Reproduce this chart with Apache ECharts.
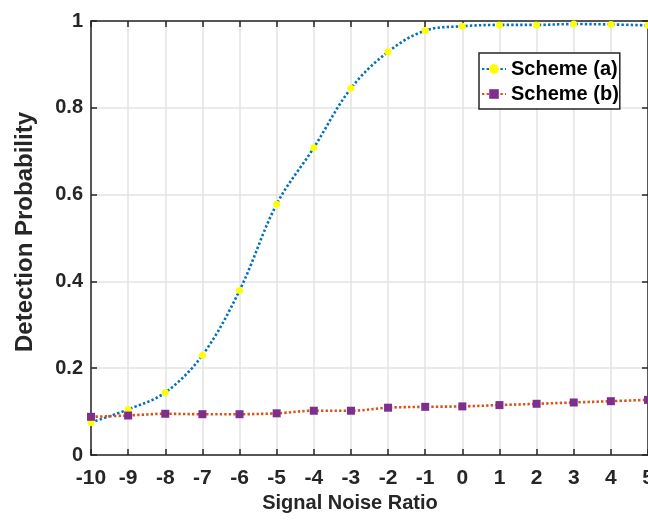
<!DOCTYPE html>
<html>
<head>
<meta charset="utf-8">
<script src="https://cdn.jsdelivr.net/npm/echarts@6/dist/echarts.min.js"></script>
<style>html,body{margin:0;padding:0;background:#fff}#c{width:648px;height:520px}</style>
</head>
<body>
<div id="c"></div>
<script>
const snr = [-10,-9,-8,-7,-6,-5,-4,-3,-2,-1,0,1,2,3,4,5];
const schemeA = [0.075,0.105,0.144,0.230,0.379,0.578,0.708,0.845,0.929,0.978,0.988,0.991,0.991,0.993,0.992,0.990];
const schemeB = [0.088,0.091,0.095,0.094,0.094,0.096,0.102,0.102,0.109,0.111,0.112,0.115,0.118,0.121,0.124,0.127];
const seriesNames = ['Scheme (a)','Scheme (b)'];
const xTitle = 'Signal Noise Ratio';
const yTitle = 'Detection Probability';

const FONT = '"Liberation Sans", Arial, Helvetica, sans-serif';
const AX = '#262626';
const chart = echarts.init(document.getElementById('c'), null, {renderer:'canvas'});
const pairs = arr => snr.map((x,i)=>[x,arr[i]]);
chart.setOption({
  animation:false,
  backgroundColor:'#fff',
  grid:{left:91, top:21, right:0, bottom:65, containLabel:false, outerBoundsMode:'none'},
  legend:{
    data:[{name:seriesNames[0]},{name:seriesNames[1]}],
    orient:'vertical', left:479, top:53,
    backgroundColor:'#fff', borderColor:'#262626', borderWidth:1.5, borderRadius:0,
    padding:[6,1,5,2], itemGap:5, itemWidth:24, itemHeight:12,
    textStyle:{fontFamily:FONT, fontWeight:'bold', fontSize:20, color:'#000'}
  },
  xAxis:[{
    type:'value', min:-10, max:5, interval:1,
    name:xTitle, nameLocation:'middle', nameGap:38,
    nameTextStyle:{fontFamily:FONT, fontWeight:'bold', fontSize:20, color:AX, padding:[0,39,0,0]},
    axisLine:{show:true, onZero:false, lineStyle:{color:AX, width:1.5}},
    axisTick:{show:true, inside:true, length:6, lineStyle:{color:AX, width:1.5}},
    axisLabel:{margin:13, fontFamily:FONT, fontWeight:'bold', fontSize:21, color:AX},
    splitLine:{show:true, lineStyle:{color:'#e3e3e3', width:1.5}}
  },{
    type:'value', min:-10, max:5, interval:1, position:'top',
    axisLine:{show:true, onZero:false, lineStyle:{color:AX, width:1.5}},
    axisTick:{show:true, inside:true, length:6, lineStyle:{color:AX, width:1.5}},
    axisLabel:{show:false}, splitLine:{show:false}
  }],
  yAxis:[{
    type:'value', min:0, max:1, interval:0.2,
    name:yTitle, nameLocation:'middle', nameGap:54, nameRotate:90,
    nameTextStyle:{fontFamily:FONT, fontWeight:'bold', fontSize:24, color:AX, padding:[0,0,0,12]},
    axisLine:{show:true, onZero:false, lineStyle:{color:AX, width:1.5}},
    axisTick:{show:true, inside:true, length:6, lineStyle:{color:AX, width:1.5}},
    axisLabel:{margin:8, fontFamily:FONT, fontWeight:'bold', fontSize:20, color:AX},
    splitLine:{show:true, lineStyle:{color:'#e3e3e3', width:1.5}}
  },{
    type:'value', min:0, max:1, interval:0.2, position:'right',
    axisLine:{show:true, onZero:false, lineStyle:{color:AX, width:1.5}},
    axisTick:{show:true, inside:true, length:6, lineStyle:{color:AX, width:1.5}},
    axisLabel:{show:false}, splitLine:{show:false}
  }],
  series:[{
    name:seriesNames[0], type:'line', data:pairs(schemeA), smooth:0.35,
    symbol:'circle', symbolSize:7,
    itemStyle:{color:'#FFFF00', borderWidth:0},
    lineStyle:{color:'#0072BD', width:2.6, type:[2.4,2.2]},
    z:2
  },{
    name:seriesNames[1], type:'line', data:pairs(schemeB), smooth:0.35,
    symbol:'rect', symbolSize:8,
    itemStyle:{color:'#7E2F8E', borderWidth:0},
    lineStyle:{color:'#D95319', width:2.6, type:[2.4,2.2]},
    z:3
  }]
});
</script>
</body>
</html>
